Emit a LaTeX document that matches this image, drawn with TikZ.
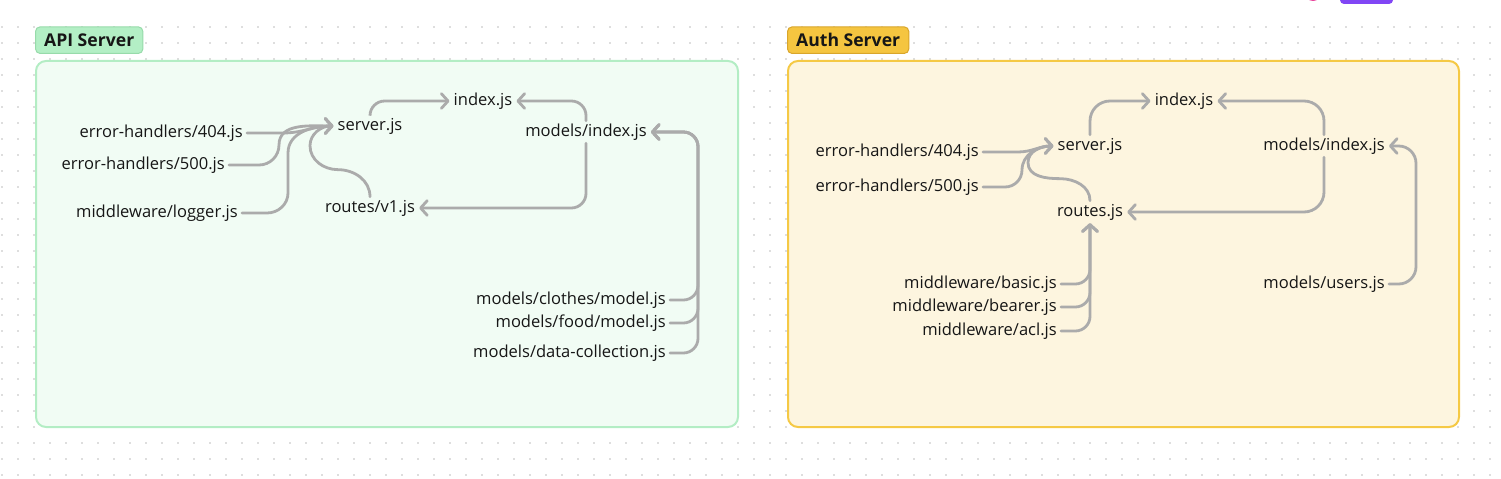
\documentclass[tikz,border=0pt]{standalone}
\usepackage{fontspec}
\setmainfont{Open Sans}
\usepackage{tikz}
\usetikzlibrary{arrows.meta, positioning, calc}
\definecolor{ink}{HTML}{161616}
\definecolor{wire}{HTML}{ABABAB}
\definecolor{grid-dot}{HTML}{DEDEDE}
\definecolor{api-fill}{HTML}{F1FCF4}
\definecolor{api-line}{HTML}{B3EDC4}
\definecolor{api-tag}{HTML}{B3EFC5}
\definecolor{api-tag-line}{HTML}{97DBAA}
\definecolor{auth-fill}{HTML}{FDF5DF}
\definecolor{auth-line}{HTML}{F5C945}
\definecolor{auth-tag}{HTML}{F5C540}
\definecolor{auth-tag-line}{HTML}{D9A62B}
\definecolor{top-purple}{HTML}{8146F5}
\definecolor{top-pink}{HTML}{E8459B}

\begin{document}
\begin{tikzpicture}[
    x=0.75pt, y=0.75pt,
    file/.style={inner sep=3pt, text height=8.8pt, text depth=1.8pt, font=\fontsize{12.4}{14}\selectfont, text=ink},
    panel/.style={rectangle, rounded corners=7.5pt, line width=1.5pt, minimum width=#1, minimum height=274.5pt, anchor=north west},
    tag/.style={rectangle, rounded corners=3.5pt, line width=0.75pt, minimum height=20pt, inner xsep=6.5pt, inner ysep=0pt,
        text height=9pt, text depth=0pt, font=\bfseries\fontsize{13.2}{15}\selectfont, text=ink},
    conn/.style={draw=wire, line width=2.1pt, line cap=round, -{Straight Barb[length=5pt,width=11pt,round]}}
]
\useasboundingbox (0,0) rectangle (1501,-478);
\clip (0,0) rectangle (1501,-478);

% Raster
\foreach \x in {2,18,...,1498}
  \foreach \y in {27,43,...,475}
    \fill[grid-dot] (\x-1,-\y-1) rectangle ++(2,2);

% Toolbar rest
\fill[top-pink] (1313,7) circle (8);
\fill[top-purple, rounded corners=3pt] (1340,8) rectangle (1393,-4);

% Bereiche
\node[panel=526.5pt, draw=api-line, fill=api-fill] (apiBox) at (35,-60) {};
\node[panel=503.25pt, draw=auth-line, fill=auth-fill] (authBox) at (787,-60) {};
\node[tag, draw=api-tag-line, fill=api-tag, above right=4.5pt and 0pt of apiBox.north west] (apiTag) {API Server};
\node[tag, draw=auth-tag-line, fill=auth-tag, above right=4.5pt and 0pt of authBox.north west] (authTag) {Auth Server};

% API Server
\node[file] (idxA) at (483,-101) {index.js};
\node[file] (srvA) at (370,-126) {server.js};
\node[file, anchor=east] (modA) at (651,-132) {models/index.js};
\node[file, anchor=east] (e404A) at (247,-133) {error-handlers/404.js};
\node[file, anchor=east] (e500A) at (229,-165) {error-handlers/500.js};
\node[file, anchor=east] (logA) at (242,-213) {middleware/logger.js};
\node[file] (rtA) at (370,-208) {routes/v1.js};
\node[file, anchor=east] (clA) at (670,-300) {models/clothes/model.js};
\node[file, anchor=east] (fdA) at (670,-323) {models/food/model.js};
\node[file, anchor=east] (dcA) at (670,-353) {models/data-collection.js};
\coordinate (busA) at ($(modA.east)+(47,0)$);

\draw[conn, rounded corners=11pt] (srvA.north) |- (idxA.west);
\draw[conn, rounded corners=11pt] (modA.north) |- (idxA.east);
\draw[conn, rounded corners=11pt] (modA.south) |- (rtA.east);
\draw[conn] (rtA.north) to[out=90,in=0] ++(-32,27) to[out=180,in=-90] ++(-28,24) to[out=90,in=180] (srvA.west);
\draw[conn] (e404A.east) -- ++(36,0) to[out=0,in=180] (srvA.west);
\draw[conn] (e500A.east) -- ++(30,0) to[out=0,in=-90] ++(20,20) to[out=90,in=180] (srvA.west);
\draw[conn] (logA.east) -- ++(25,0) to[out=0,in=-90] ++(21,20) -- ++(0,40) to[out=90,in=180] (srvA.west);
\draw[conn, rounded corners=11pt] (clA.east) -| (busA) -- (modA.east);
\draw[conn, rounded corners=11pt] (fdA.east) -| (busA) -- (modA.east);
\draw[conn, rounded corners=11pt] (dcA.east) -| (busA) -- (modA.east);

% Auth Server
\node[file] (idxB) at (1184,-101) {index.js};
\node[file] (srvB) at (1090,-146) {server.js};
\node[file, anchor=east] (modB) at (1389,-146) {models/index.js};
\node[file, anchor=east] (e404B) at (983,-152) {error-handlers/404.js};
\node[file, anchor=east] (e500B) at (983,-187) {error-handlers/500.js};
\node[file] (rtB) at (1090,-212) {routes.js};
\node[file, anchor=east] (basB) at (1061,-284) {middleware/basic.js};
\node[file, anchor=east] (berB) at (1061,-307) {middleware/bearer.js};
\node[file, anchor=east] (aclB) at (1061,-331) {middleware/acl.js};
\node[file, anchor=east] (usrB) at (1389,-284) {models/users.js};
\coordinate (busB) at ($(modB.east)+(27,0)$);

\draw[conn, rounded corners=15pt] (srvB.north) |- (idxB.west);
\draw[conn, rounded corners=15pt] (modB.north) |- (idxB.east);
\draw[conn, rounded corners=15pt] (modB.south) |- (rtB.east);
\draw[conn] (rtB.north) to[out=90,in=0] ++(-30,22) to[out=180,in=-90] ++(-32,16) to[out=90,in=180] (srvB.west);
\draw[conn] (e404B.east) -- ++(35,0) to[out=0,in=180] (srvB.west);
\draw[conn] (e500B.east) -- ++(22,0) to[out=0,in=-90] ++(17,17) to[out=90,in=180] (srvB.west);
\draw[conn, rounded corners=11pt] (basB.east) -| (rtB.south);
\draw[conn, rounded corners=11pt] (berB.east) -| (rtB.south);
\draw[conn, rounded corners=11pt] (aclB.east) -| (rtB.south);
\draw[conn, rounded corners=13pt] (usrB.east) -| (busB) -- (modB.east);

\end{tikzpicture}
\end{document}
